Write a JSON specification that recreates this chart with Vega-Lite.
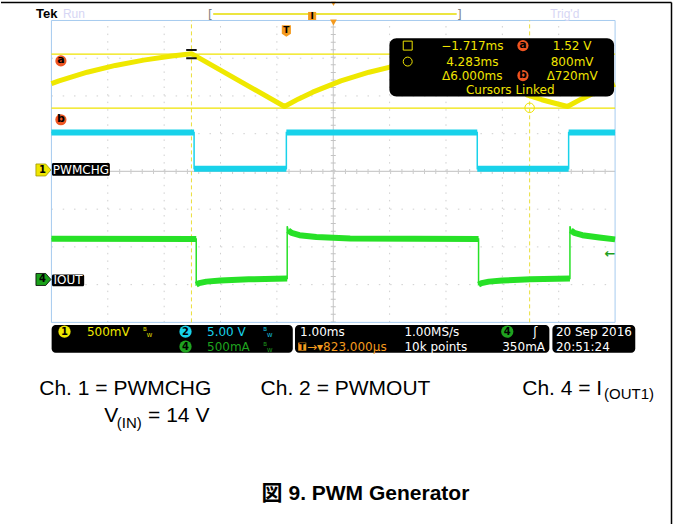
{
  "$schema": "https://vega.github.io/schema/vega-lite/v6.json",
  "width": 673,
  "height": 525,
  "autosize": {"type": "fit", "contains": "padding"},
  "padding": 0,
  "background": "white",
  "config": {"view": {"stroke": null}},
  "datasets": {
    "ch1": [
      {"i": 1, "x": 0, "y": 2.325}, {"i": 2, "x": 0.135, "y": 2.398}, {"i": 3, "x": 0.635, "y": 2.629},
      {"i": 4, "x": 1.135, "y": 2.809}, {"i": 5, "x": 1.635, "y": 2.949}, {"i": 6, "x": 2.135, "y": 3.058},
      {"i": 7, "x": 2.484, "y": 3.12}, {"i": 8, "x": 4.135, "y": 1.72}, {"i": 9, "x": 4.385, "y": 1.922},
      {"i": 10, "x": 4.635, "y": 2.101}, {"i": 11, "x": 5.135, "y": 2.398}, {"i": 12, "x": 5.635, "y": 2.629},
      {"i": 13, "x": 6.135, "y": 2.809}, {"i": 14, "x": 6.635, "y": 2.949}, {"i": 15, "x": 7.135, "y": 3.058},
      {"i": 16, "x": 7.485, "y": 3.12}, {"i": 17, "x": 8.45, "y": 2.02}, {"i": 18, "x": 8.7, "y": 1.9},
      {"i": 19, "x": 8.95, "y": 1.8}, {"i": 20, "x": 9.155, "y": 1.72}, {"i": 21, "x": 9.405, "y": 1.922},
      {"i": 22, "x": 9.655, "y": 2.101}, {"i": 23, "x": 10, "y": 2.31}
    ],
    "ch2": [
      {"i": 1, "x": 0, "y": 1.033, "s": "a"}, {"i": 2, "x": 2.531, "y": 1.033, "s": "a"},
      {"i": 3, "x": 2.531, "y": 0.073, "s": "b"}, {"i": 4, "x": 4.168, "y": 0.073, "s": "b"},
      {"i": 5, "x": 4.168, "y": 1.033, "s": "c"}, {"i": 6, "x": 7.555, "y": 1.033, "s": "c"},
      {"i": 7, "x": 7.555, "y": 0.073, "s": "d"}, {"i": 8, "x": 9.176, "y": 0.073, "s": "d"},
      {"i": 9, "x": 9.176, "y": 1.033, "s": "e"}, {"i": 10, "x": 10, "y": 1.033, "s": "e"}
    ],
    "ch4": [
      {"i": 1, "x": 0, "y": -1.787, "s": "a"}, {"i": 2, "x": 2.569, "y": -1.79, "s": "a"},
      {"i": 3, "x": 2.569, "y": -3.0, "s": "b"}, {"i": 4, "x": 2.62, "y": -2.96, "s": "b"},
      {"i": 5, "x": 2.75, "y": -2.92, "s": "b"}, {"i": 6, "x": 3.0, "y": -2.89, "s": "b"},
      {"i": 7, "x": 3.5, "y": -2.86, "s": "b"}, {"i": 8, "x": 4.183, "y": -2.84, "s": "b"},
      {"i": 9, "x": 4.183, "y": -1.45, "s": null},
      {"i": 10, "x": 4.2, "y": -1.56, "s": "c"}, {"i": 11, "x": 4.26, "y": -1.63, "s": "c"},
      {"i": 12, "x": 4.4, "y": -1.69, "s": "c"}, {"i": 13, "x": 4.7, "y": -1.74, "s": "c"},
      {"i": 14, "x": 5.3, "y": -1.775, "s": "c"}, {"i": 15, "x": 7.578, "y": -1.79, "s": "c"},
      {"i": 16, "x": 7.578, "y": -3.0, "s": "d"}, {"i": 17, "x": 7.63, "y": -2.96, "s": "d"},
      {"i": 18, "x": 7.76, "y": -2.92, "s": "d"}, {"i": 19, "x": 8.0, "y": -2.89, "s": "d"},
      {"i": 20, "x": 8.5, "y": -2.86, "s": "d"}, {"i": 21, "x": 9.199, "y": -2.84, "s": "d"},
      {"i": 22, "x": 9.199, "y": -1.45, "s": null},
      {"i": 23, "x": 9.216, "y": -1.56, "s": "e"}, {"i": 24, "x": 9.276, "y": -1.63, "s": "e"},
      {"i": 25, "x": 9.42, "y": -1.69, "s": "e"}, {"i": 26, "x": 9.72, "y": -1.75, "s": "e"},
      {"i": 27, "x": 10, "y": -1.8, "s": "e"}
    ],
    "curlbl": [
      {"x": 8.365, "y": 3.334, "t": "a"}, {"x": 8.365, "y": 2.54, "t": "b"},
      {"x": 0.168, "y": 2.929, "t": "a"}, {"x": 0.168, "y": 1.369, "t": "b"}
    ],
    "statcirc": [
      {"x": 0.232, "y": -4.246, "ch": "1", "t": "1"}, {"x": 2.379, "y": -4.246, "ch": "2", "t": "2"},
      {"x": 2.379, "y": -4.643, "ch": "4", "t": "4"}, {"x": 8.087, "y": -4.246, "ch": "4", "t": "4"}
    ]
  },
  "encoding": {
    "x": {"field": "x", "type": "quantitative", "scale": {"domain": [-0.8946, 11.0275], "nice": false, "zero": false}, "axis": null},
    "y": {"field": "y", "type": "quantitative", "scale": {"domain": [-9.3425, 4.5425], "nice": false, "zero": false}, "axis": null}
  },
  "layer": [
    {"data": {"values": [
      {"x": 1, "y": -4, "y2": 4}, {"x": 2, "y": -4, "y2": 4}, {"x": 3, "y": -4, "y2": 4}, {"x": 4, "y": -4, "y2": 4},
      {"x": 6, "y": -4, "y2": 4}, {"x": 7, "y": -4, "y2": 4}, {"x": 8, "y": -4, "y2": 4}, {"x": 9, "y": -4, "y2": 4}]},
     "mark": {"type": "rule", "color": "#cfcfcf", "strokeWidth": 1, "strokeDash": [1.5, 6.06]},
     "encoding": {"y2": {"field": "y2"}}},
    {"data": {"values": [
      {"x": 0, "x2": 10, "y": -3}, {"x": 0, "x2": 10, "y": -2}, {"x": 0, "x2": 10, "y": -1},
      {"x": 0, "x2": 10, "y": 1}, {"x": 0, "x2": 10, "y": 2}, {"x": 0, "x2": 10, "y": 3}]},
     "mark": {"type": "rule", "color": "#cfcfcf", "strokeWidth": 1, "strokeDash": [1.5, 9.79]},
     "encoding": {"x2": {"field": "x2"}}},
    {"data": {"values": [{"x": 5, "y": -4, "y2": 4}]},
     "mark": {"type": "rule", "color": "#c4c4c4", "strokeWidth": 1},
     "encoding": {"y2": {"field": "y2"}}},
    {"data": {"values": [{"x": 5, "y": -4, "y2": 4}]},
     "mark": {"type": "rule", "color": "#c4c4c4", "strokeWidth": 5, "strokeDash": [1, 6.56]},
     "encoding": {"y2": {"field": "y2"}}},
    {"data": {"values": [{"x": 0, "x2": 10, "y": 0}]},
     "mark": {"type": "rule", "color": "#cccccc", "strokeWidth": 1.2},
     "encoding": {"x2": {"field": "x2"}}},
    {"data": {"values": [{"x": 0, "x2": 10, "y": 0}]},
     "mark": {"type": "rule", "color": "#cccccc", "strokeWidth": 5, "strokeDash": [1, 10.29]},
     "encoding": {"x2": {"field": "x2"}}},
    {"data": {"values": [{"x": 0, "x2": 10, "y": -4, "y2": 4}]},
     "mark": {"type": "rect", "filled": false, "stroke": "#a6cbef", "strokeWidth": 1},
     "encoding": {"x2": {"field": "x2"}, "y2": {"field": "y2"}}},
    {"data": {"values": [{"x": 0, "x2": 10, "y": 3.106}, {"x": 0, "x2": 10, "y": 1.678}]},
     "mark": {"type": "rule", "color": "#efe300", "strokeWidth": 1.3},
     "encoding": {"x2": {"field": "x2"}}},
    {"data": {"values": [{"x": 2.484, "y": -4, "y2": 4}, {"x": 8.484, "y": -4, "y2": 4}]},
     "mark": {"type": "rule", "color": "#eadf3a", "strokeWidth": 1, "strokeDash": [4, 3]},
     "encoding": {"y2": {"field": "y2"}}},
    {"data": {"name": "ch1"},
     "mark": {"type": "line", "color": "#efe800", "strokeWidth": 5, "strokeJoin": "round", "strokeCap": "butt"},
     "encoding": {"order": {"field": "i", "type": "quantitative"}}},
    {"data": {"name": "ch2"},
     "mark": {"type": "line", "color": "#18d2ea", "strokeWidth": 1.5},
     "encoding": {"order": {"field": "i", "type": "quantitative"}}},
    {"data": {"name": "ch2"},
     "mark": {"type": "line", "color": "#18d2ea", "strokeWidth": 6, "strokeCap": "butt"},
     "encoding": {"detail": {"field": "s", "type": "nominal"}, "order": {"field": "i", "type": "quantitative"}}},
    {"data": {"name": "ch4"},
     "mark": {"type": "line", "color": "#27e127", "strokeWidth": 1.5},
     "encoding": {"order": {"field": "i", "type": "quantitative"}}},
    {"data": {"name": "ch4"},
     "transform": [{"filter": "datum.s != null"}],
     "mark": {"type": "line", "color": "#27e127", "strokeWidth": 6, "strokeCap": "butt", "strokeJoin": "round"},
     "encoding": {"detail": {"field": "s", "type": "nominal"}, "order": {"field": "i", "type": "quantitative"}}},
    {"data": {"values": [{"x": 2.484, "y": 3.109}]},
     "mark": {"type": "point", "shape": "M-1,-0.8L1,-0.8M-1,0.8L1,0.8", "size": 110, "stroke": "#111111", "strokeWidth": 2, "filled": false, "opacity": 1}},
    {"data": {"values": [{"x": 8.484, "y": 1.686}]},
     "mark": {"type": "point", "shape": "circle", "size": 90, "stroke": "#efe300", "strokeWidth": 1, "filled": false, "opacity": 1}},
    {"data": {"values": [{"x": 5.996, "x2": 9.982, "y": 3.529, "y2": 1.985}]},
     "mark": {"type": "rect", "color": "#000000", "cornerRadius": 7},
     "encoding": {"x2": {"field": "x2"}, "y2": {"field": "y2"}}},
    {"data": {"values": [
      {"x": 7.467, "y": 3.334, "t": "−1.717ms"}, {"x": 9.238, "y": 3.334, "t": "1.52 V"},
      {"x": 7.467, "y": 2.911, "t": "4.283ms"}, {"x": 9.238, "y": 2.911, "t": "800mV"},
      {"x": 7.467, "y": 2.54, "t": "Δ6.000ms"}, {"x": 9.238, "y": 2.54, "t": "Δ720mV"},
      {"x": 8.14, "y": 2.162, "t": "Cursors Linked"}]},
     "mark": {"type": "text", "font": "DejaVu Sans", "fontSize": 12, "color": "#f0e400", "align": "center", "baseline": "middle"},
     "encoding": {"text": {"field": "t"}}},
    {"data": {"values": [{"x": 6.321, "y": 3.334, "k": "c1"}, {"x": 6.321, "y": 2.911, "k": "c2"}]},
     "mark": {"type": "point", "size": 80, "stroke": "#f0e400", "strokeWidth": 1, "filled": false, "opacity": 1},
     "encoding": {"shape": {"field": "k", "type": "nominal", "scale": {"domain": ["c1", "c2"], "range": ["square", "circle"]}, "legend": null}}},
    {"data": {"name": "curlbl"},
     "mark": {"type": "point", "shape": "circle", "filled": true, "color": "#ee5522", "size": 125, "opacity": 1}},
    {"data": {"name": "curlbl"},
     "mark": {"type": "text", "font": "DejaVu Sans", "fontSize": 11, "fontWeight": "bold", "color": "#000000", "align": "center", "baseline": "middle", "dy": -0.5},
     "encoding": {"text": {"field": "t"}}},
    {"data": {"values": [{"x": 0.0089, "x2": 1.0363, "y": 0.2235, "y2": -0.1124}, {"x": 0.0089, "x2": 0.581, "y": -2.731, "y2": -3.04}]},
     "mark": {"type": "rect", "color": "#000000", "cornerRadius": 1.5},
     "encoding": {"x2": {"field": "x2"}, "y2": {"field": "y2"}}},
    {"data": {"values": [{"x": 0.5226, "y": 0.0463, "t": "PWMCHG"}, {"x": 0.2958, "y": -2.889, "t": "IOUT"}]},
     "mark": {"type": "text", "font": "DejaVu Sans", "fontSize": 12, "color": "#ffffff", "align": "center", "baseline": "middle"},
     "encoding": {"text": {"field": "t"}}},
    {"data": {"values": [{"x": -0.1417, "y": 0.0383}]},
     "mark": {"type": "point", "shape": "M-1,-0.8L0.3,-0.8L1,0L0.3,0.8L-1,0.8Z", "size": 225, "filled": true, "fill": "#efe600", "stroke": "#a09600", "strokeWidth": 0.8, "opacity": 1}},
    {"data": {"values": [{"x": -0.1417, "y": -2.863}]},
     "mark": {"type": "point", "shape": "M-1,-0.8L0.3,-0.8L1,0L0.3,0.8L-1,0.8Z", "size": 225, "filled": true, "fill": "#1aa01a", "stroke": "#000000", "strokeWidth": 0.8, "opacity": 1}},
    {"data": {"values": [{"x": -0.16, "y": 0.0383, "t": "1"}, {"x": -0.16, "y": -2.863, "t": "4"}]},
     "mark": {"type": "text", "font": "DejaVu Sans", "fontSize": 10, "fontWeight": "bold", "color": "#000000", "align": "center", "baseline": "middle"},
     "encoding": {"text": {"field": "t"}}},
    {"data": {"values": [{"x": -0.2746, "y": 4.177, "t": "Tek"}]},
     "mark": {"type": "text", "font": "Liberation Sans", "fontSize": 13, "fontWeight": "bold", "color": "#000000", "align": "left", "baseline": "middle"},
     "encoding": {"text": {"field": "t"}}},
    {"data": {"values": [{"x": 0.2037, "y": 4.177, "t": "Run"}, {"x": 8.848, "y": 4.177, "t": "Trig'd"}]},
     "mark": {"type": "text", "font": "Liberation Sans", "fontSize": 12, "color": "#d6d6f4", "align": "left", "baseline": "middle"},
     "encoding": {"text": {"field": "t"}}},
    {"data": {"values": [{"x": 2.82, "y": 4.146, "t": "["}, {"x": 7.237, "y": 4.146, "t": "]"}]},
     "mark": {"type": "text", "font": "DejaVu Sans", "fontSize": 12, "color": "#808080", "align": "center", "baseline": "middle"},
     "encoding": {"text": {"field": "t"}}},
    {"data": {"values": [{"x": 2.87, "x2": 7.19, "y": 4.172}]},
     "mark": {"type": "rule", "color": "#e6dd00", "strokeWidth": 1.3},
     "encoding": {"x2": {"field": "x2"}}},
    {"data": {"values": [
      {"x": 0.0035, "x2": 4.282, "y": -4.072, "y2": -4.802},
      {"x": 4.321, "x2": 8.834, "y": -4.072, "y2": -4.802},
      {"x": 8.888, "x2": 10.358, "y": -4.072, "y2": -4.802}]},
     "mark": {"type": "rect", "color": "#000000", "cornerRadius": 4},
     "encoding": {"x2": {"field": "x2"}, "y2": {"field": "y2"}}},
    {"data": {"values": [{"x": 5.004, "y": 3.947}]},
     "mark": {"type": "point", "shape": "triangle-down", "size": 45, "filled": true, "color": "#f39a1e", "opacity": 1}},
    {"data": {"values": [{"x": 5.004, "y": 4.44}]},
     "mark": {"type": "point", "shape": "triangle-down", "size": 22, "filled": true, "color": "#f39a1e", "opacity": 1}},
    {"data": {"values": [{"x": 4.168, "y": 3.722}]},
     "mark": {"type": "point", "shape": "M-0.8,-1L0.8,-1L0.8,0.5L0,1L-0.8,0.5Z", "size": 130, "filled": true, "color": "#f39a1e", "opacity": 1}},
    {"data": {"values": [{"x": 4.625, "y": 4.119}, {"x": 4.45, "y": -4.643}]},
     "mark": {"type": "point", "shape": "square", "size": 65, "filled": true, "color": "#f39a1e", "opacity": 1}},
    {"data": {"values": [{"x": 4.625, "y": 4.119, "t": "I"}, {"x": 4.45, "y": -4.643, "t": "T"}, {"x": 4.168, "y": 3.76, "t": "T"}]},
     "mark": {"type": "text", "font": "DejaVu Sans", "fontSize": 9, "fontWeight": "bold", "color": "#000000", "align": "center", "baseline": "middle"},
     "encoding": {"text": {"field": "t"}}},
    {"data": {"values": [{"x": 9.911, "y": -2.183, "t": "←"}]},
     "mark": {"type": "text", "font": "DejaVu Sans", "fontSize": 13, "fontWeight": "bold", "color": "#1f9f1f", "align": "center", "baseline": "middle"},
     "encoding": {"text": {"field": "t"}}},
    {"data": {"name": "statcirc"},
     "mark": {"type": "point", "shape": "circle", "filled": true, "size": 150, "opacity": 1},
     "encoding": {"color": {"field": "ch", "type": "nominal", "scale": {"domain": ["1", "2", "4", "ui", "trig"], "range": ["#efe800", "#18d2ea", "#1fa31f", "#ffffff", "#f39a1e"]}, "legend": null}}},
    {"data": {"name": "statcirc"},
     "mark": {"type": "text", "font": "DejaVu Sans", "fontSize": 10, "fontWeight": "bold", "color": "#000000", "align": "center", "baseline": "middle"},
     "encoding": {"text": {"field": "t"}}},
    {"data": {"values": [
      {"x": 0.629, "y": -4.246, "t": "500mV", "ch": "1"},
      {"x": 2.76, "y": -4.246, "t": "5.00 V", "ch": "2"},
      {"x": 2.76, "y": -4.643, "t": "500mA", "ch": "4"},
      {"x": 4.411, "y": -4.246, "t": "1.00ms", "ch": "ui"},
      {"x": 6.262, "y": -4.246, "t": "1.00MS/s", "ch": "ui"},
      {"x": 8.546, "y": -4.246, "t": "ʃ", "ch": "ui"},
      {"x": 4.535, "y": -4.643, "t": "→▾823.000µs", "ch": "trig"},
      {"x": 6.262, "y": -4.643, "t": "10k points", "ch": "ui"},
      {"x": 7.998, "y": -4.643, "t": "350mA", "ch": "ui"},
      {"x": 8.95, "y": -4.246, "t": "20 Sep 2016", "ch": "ui"},
      {"x": 8.95, "y": -4.643, "t": "20:51:24", "ch": "ui"}]},
     "mark": {"type": "text", "font": "DejaVu Sans", "fontSize": 12, "align": "left", "baseline": "middle"},
     "encoding": {"text": {"field": "t"}, "color": {"field": "ch", "type": "nominal", "legend": null}}},
    {"data": {"values": [
      {"x": 1.66, "y": -4.165, "t": "B", "ch": "1"}, {"x": 1.74, "y": -4.33, "t": "W", "ch": "1"},
      {"x": 3.793, "y": -4.165, "t": "B", "ch": "2"}, {"x": 3.873, "y": -4.33, "t": "W", "ch": "2"},
      {"x": 3.793, "y": -4.562, "t": "B", "ch": "4"}, {"x": 3.873, "y": -4.727, "t": "W", "ch": "4"}]},
     "mark": {"type": "text", "font": "DejaVu Sans", "fontSize": 5.5, "align": "center", "baseline": "middle"},
     "encoding": {"text": {"field": "t"}, "color": {"field": "ch", "type": "nominal", "legend": null}}},
    {"data": {"values": [
      {"x": -0.216, "y": -5.912, "t": "Ch. 1 = PWMCHG"},
      {"x": 3.711, "y": -5.912, "t": "Ch. 2 = PWMOUT"},
      {"x": 8.353, "y": -5.912, "t": "Ch. 4 = I"},
      {"x": 0.935, "y": -6.645, "t": "V"},
      {"x": 1.715, "y": -6.645, "t": "= 14 V"}]},
     "mark": {"type": "text", "font": "Liberation Sans", "fontSize": 21, "color": "#000000", "align": "left", "baseline": "alphabetic"},
     "encoding": {"text": {"field": "t"}}},
    {"data": {"values": [{"x": 9.805, "y": -6.037, "t": "(OUT1)"}, {"x": 1.16, "y": -6.796, "t": "(IN)"}]},
     "mark": {"type": "text", "font": "Liberation Sans", "fontSize": 15, "color": "#000000", "align": "left", "baseline": "alphabetic"},
     "encoding": {"text": {"field": "t"}}},
    {"data": {"values": [{"x": 3.729, "y": -8.7, "t": "図 9. PWM Generator"}]},
     "mark": {"type": "text", "font": "Liberation Sans, Noto Sans CJK JP", "fontSize": 21, "fontWeight": "bold", "color": "#000000", "align": "left", "baseline": "alphabetic"},
     "encoding": {"text": {"field": "t"}}},
    {"data": {"values": [{"x": -0.8946, "x2": 11.001, "y": 4.476, "y2": 4.476}, {"x": 11.001, "x2": 11.001, "y": 4.476, "y2": -9.3425}]},
     "mark": {"type": "rule", "color": "#000000", "strokeWidth": 1.5},
     "encoding": {"x2": {"field": "x2"}, "y2": {"field": "y2"}}}
  ]
}
